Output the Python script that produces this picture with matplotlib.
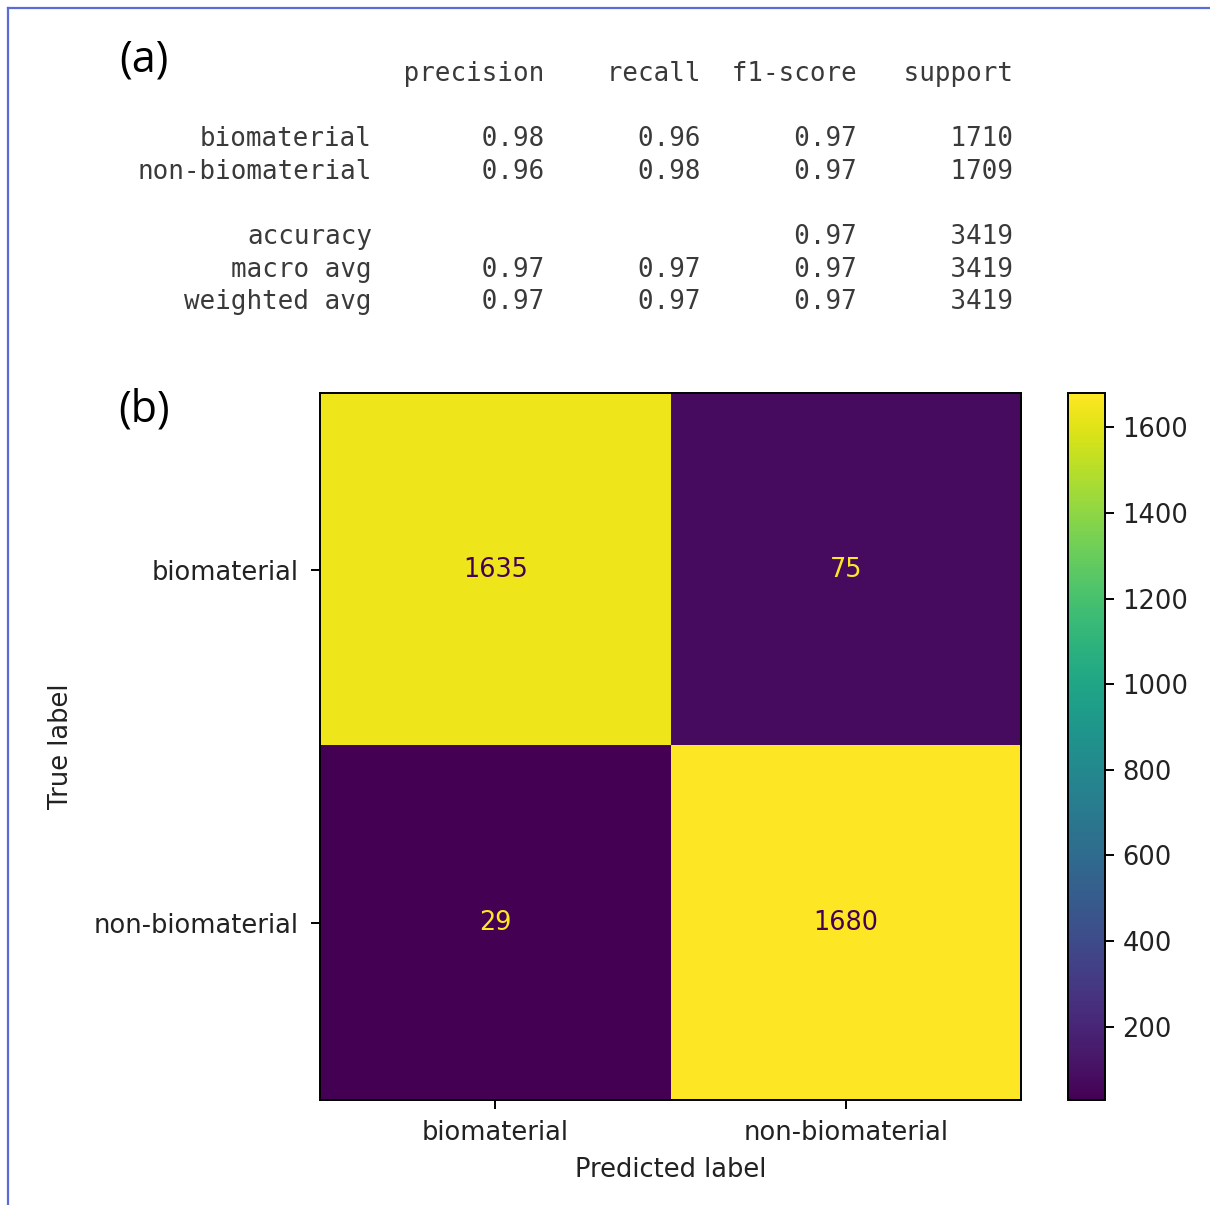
import numpy as np
import matplotlib.pyplot as plt
from matplotlib.lines import Line2D

# classification report values
report_labels = ['biomaterial', 'non-biomaterial']
precision = [0.98, 0.96]
recall = [0.96, 0.98]
f1_score = [0.97, 0.97]
support = [1710, 1709]
accuracy = 0.97
macro_avg = [0.97, 0.97, 0.97]
weighted_avg = [0.97, 0.97, 0.97]
total_support = 3419

# confusion matrix
class_names = ['biomaterial', 'non-biomaterial']
cm = np.array([[1635, 75],
               [29, 1680]])
cbar_ticks = [200, 400, 600, 800, 1000, 1200, 1400, 1600]

fig = plt.figure(figsize=(12.1, 12.05), dpi=100)

# report rows, sklearn style: (row label, numbers part)
rows = [('', ''.join(' {:>9}'.format(h) for h in ['precision', 'recall', 'f1-score', 'support'])), None]
for i, name in enumerate(report_labels):
    rows.append((name, ' {:>9.2f} {:>9.2f} {:>9.2f}'.format(precision[i], recall[i], f1_score[i])
                 + ' {:>9}'.format(support[i])))
rows.append(None)
rows.append(('accuracy', ' {:>9} {:>9} {:>9.2f} {:>9}'.format('', '', accuracy, total_support)))
rows.append(('macro avg', ' {:>9.2f} {:>9.2f} {:>9.2f}'.format(*macro_avg) + ' {:>9}'.format(total_support)))
rows.append(('weighted avg', ' {:>9.2f} {:>9.2f} {:>9.2f}'.format(*weighted_avg) + ' {:>9}'.format(total_support)))

mono = dict(family='DejaVu Sans Mono', fontsize=18.6, color='#3a3a3a', va='center')
x_split = 372 / 1210
y0, dy = 74, 32.6
for k, row in enumerate(rows):
    if row is None:
        continue
    y = 1 - (y0 + k * dy) / 1205
    label, nums = row
    if label:
        fig.text(x_split, y, label, ha='right', **mono)
    fig.text(x_split + 15.6 / 1210, y, nums, ha='left', **mono)

fig.text(144 / 1210, 1 - 60 / 1205, '(a)', family='Open Sans', fontsize=31, ha='center', va='center', color='#000000')
fig.text(144 / 1210, 1 - 410 / 1205, '(b)', family='Open Sans', fontsize=31, ha='center', va='center', color='#000000')

# confusion matrix axes
ax = fig.add_axes([320 / 1210, 1 - 1100 / 1205, 701 / 1210, 707 / 1205])
cax = fig.add_axes([1068 / 1210, 1 - 1100 / 1205, 37 / 1210, 707 / 1205])

cmap = plt.get_cmap('viridis')
im = ax.imshow(cm, cmap=cmap, aspect='auto', interpolation='nearest')
vmin, vmax = cm.min(), cm.max()
thresh = (vmin + vmax) / 2
for i in range(cm.shape[0]):
    for j in range(cm.shape[1]):
        c = cmap(0.0) if cm[i, j] > thresh else cmap(1.0)
        ax.text(j, i, str(cm[i, j]), ha='center', va='center', color=c, fontsize=18.4)

ax.set_xticks(range(len(class_names)))
ax.set_xticklabels(class_names)
ax.set_yticks(range(len(class_names)))
ax.set_yticklabels(class_names)
ax.set_xlabel('Predicted label', fontsize=18.5, color='#222222', labelpad=8)
ax.set_ylabel('True label', fontsize=18.5, color='#222222', labelpad=14)
ax.tick_params(labelsize=18.5, length=6.5, width=1.4, pad=6, labelcolor='#222222')
ax.tick_params(axis='y', pad=9)
ax.tick_params(axis='x', pad=8)
for s in ax.spines.values():
    s.set_linewidth(1.4)

cb = fig.colorbar(im, cax=cax, ticks=cbar_ticks)
cb.ax.tick_params(labelsize=18.5, length=6.5, width=1.4, pad=6, labelcolor='#222222')
cb.outline.set_linewidth(1.4)

# blue frame (top and left edges)
blue = '#5b6bd8'
fig.add_artist(Line2D([8 / 1210, 1.0], [1 - 8 / 1205, 1 - 8 / 1205], color=blue, lw=1.6, transform=fig.transFigure))
fig.add_artist(Line2D([8 / 1210, 8 / 1210], [0.0, 1 - 8 / 1205], color=blue, lw=1.6, transform=fig.transFigure))

fig.savefig('out.png', dpi=100)
plt.close(fig)
